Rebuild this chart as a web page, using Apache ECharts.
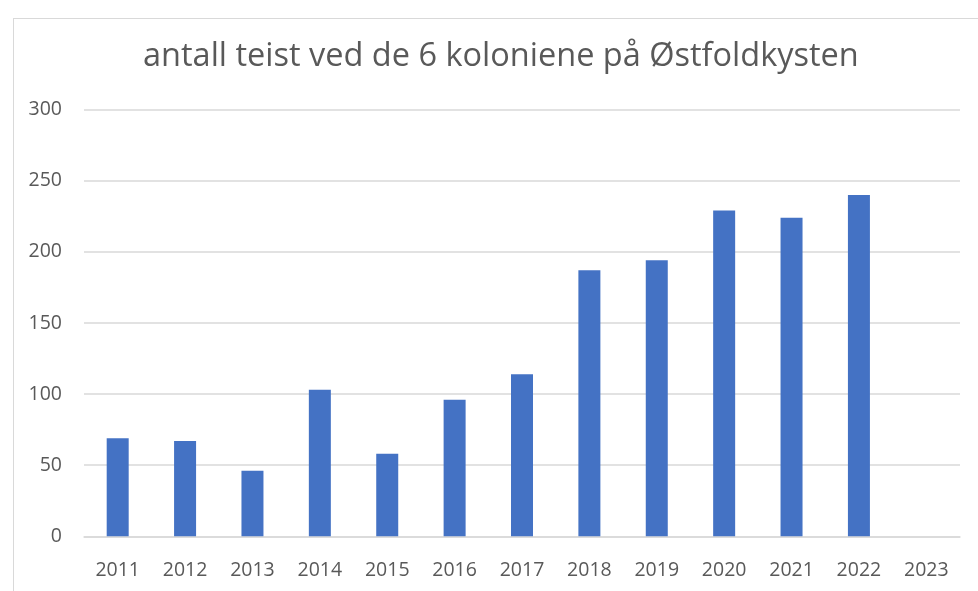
<!DOCTYPE html>
<html>
<head>
<meta charset="utf-8">
<script src="https://cdn.jsdelivr.net/npm/echarts@6/dist/echarts.min.js"></script>
<style>
  html, body { margin: 0; padding: 0; background: #fff; }
  #frame { position: absolute; left: 13px; top: 18px; width: 980px; height: 600px; border: 1px solid #d9d9d9; }
  #main { position: absolute; left: 0; top: 0; width: 978px; height: 591px; }
</style>
</head>
<body>
<div id="frame"></div>
<div id="main"></div>
<script>
// antall teist per år
var years = ['2011', '2012', '2013', '2014', '2015', '2016', '2017', '2018', '2019', '2020', '2021', '2022', '2023'];
var antall = [69, 67, 46, 103, 58, 96, 114, 187, 194, 229, 224, 240, null];
var yTicks = [0, 50, 100, 150, 200, 250, 300];

var grey = '#595959';
var chart = echarts.init(document.getElementById('main'));
chart.setOption({
    animation: false,
    title: {
        text: 'antall teist ved de 6 koloniene på Østfoldkysten',
        left: 143,
        top: 40,
        padding: 0,
        textStyle: { fontFamily: 'Open Sans', fontSize: 32.5, fontWeight: 'normal', color: grey }
    },
    grid: { left: 84, right: 18, top: 109.6, bottom: 54.7 },
    xAxis: {
        type: 'category',
        data: years,
        axisLine: { lineStyle: { color: '#d9d9d9', width: 1.5 } },
        axisTick: { show: false },
        axisLabel: { color: grey, fontSize: 19.5, fontFamily: 'Open Sans', margin: 24 }
    },
    yAxis: {
        type: 'value',
        min: yTicks[0],
        max: yTicks[yTicks.length - 1],
        interval: 50,
        axisLine: { show: false },
        axisTick: { show: false },
        splitLine: { lineStyle: { color: '#d9d9d9', width: 1.5 } },
        axisLabel: { color: grey, fontSize: 19.5, fontFamily: 'Open Sans', margin: 22 }
    },
    series: [{
        type: 'bar',
        data: antall,
        barWidth: 22,
        itemStyle: { color: '#4472c4' }
    }]
});
</script>
</body>
</html>
